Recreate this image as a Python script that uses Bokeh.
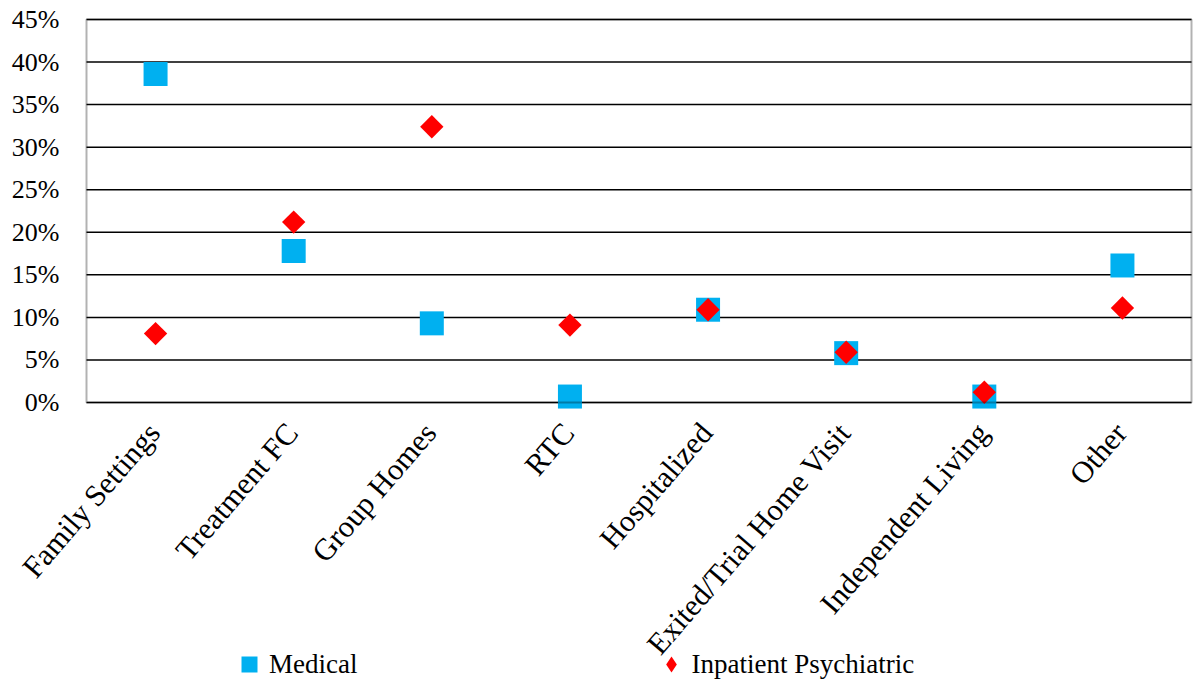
import numpy as np
from bokeh.plotting import figure
from bokeh.models import (ColumnDataSource, Range1d, Legend, LegendItem, BoxAnnotation)
from bokeh.core.properties import value
from bokeh.embed import file_html
from bokeh.resources import INLINE

# Placement outcomes by discharge type (share of youth)
categories = ["Family Settings", "Treatment FC", "Group Homes", "RTC",
              "Hospitalized", "Exited/Trial Home Visit", "Independent Living", "Other"]
medical = [0.386, 0.178, 0.093, 0.007, 0.109, 0.058, 0.007, 0.161]
inpatient_psychiatric = [0.081, 0.212, 0.324, 0.091, 0.109, 0.059, 0.012, 0.111]
y_ticks = [0.0, 0.05, 0.10, 0.15, 0.20, 0.25, 0.30, 0.35, 0.40, 0.45]
y_tick_labels = [f"{round(t * 100)}%" for t in y_ticks]

BLUE = "#00B0F0"
RED = "#FF0000"
FONT = "Liberation Serif"

# page layout (pixels)
W, H = 1193, 679
TOP = 19                 # space above the 45 % line
PLOT_LEFT = 86           # left edge of the bordered plot area
PLOT_RIGHT_GAP = 2
PLOT_H = 383             # height of the 0-45 % band
Y_MAX = 0.45

n = len(categories)
xs = list(range(n))
px_per_cat = (W - PLOT_LEFT - PLOT_RIGHT_GAP) / n
px_per_unit = PLOT_H / Y_MAX
# the drawing frame spans the whole page so the slanted labels, the
# percentage labels and the legend all live in data space
x_range = Range1d(-0.5 - PLOT_LEFT / px_per_cat, n - 0.5 + PLOT_RIGHT_GAP / px_per_cat)
y_range = Range1d(-(H - TOP - PLOT_H) / px_per_unit, Y_MAX + TOP / px_per_unit)

src = ColumnDataSource(dict(x=xs, cat=categories, med=medical, psy=inpatient_psychiatric))

p = figure(
    x_range=x_range, y_range=y_range,
    width=W, height=H,
    min_border_left=0, min_border_right=0, min_border_top=0, min_border_bottom=0,
    x_axis_location=None, y_axis_location=None,
    output_backend="svg", toolbar_location=None,
    background_fill_color="white", border_fill_color="white",
)
p.outline_line_color = None
p.grid.visible = False

# horizontal rules every 5 %
p.segment(x0=-0.5, x1=n - 0.5, y0=y_ticks, y1=y_ticks,
          line_color="black", line_width=1.5)
# border of the plot area
p.add_layout(BoxAnnotation(left=-0.5, right=n - 0.5, bottom=0, top=Y_MAX,
                           fill_alpha=0, line_color="black", line_width=2))

# percentage labels on the left
p.text(x=-0.5, y=y_ticks, text=y_tick_labels, x_offset=-27,
       text_align="right", text_baseline="middle",
       text_font=value(FONT), text_font_size=value("26px"), text_color="black")

# slanted category labels under each column
p.text(x="x", y=0, text="cat", source=src, angle=0.86,
       x_offset=-1.5, y_offset=25,
       text_align="right", text_baseline="middle",
       text_font=value(FONT), text_font_size=value("30.5px"), text_color="black")

# data markers: blue squares, red diamonds (squares turned 45 degrees)
med_r = p.scatter(x="x", y="med", source=src, marker="square", size=24,
                  fill_color=BLUE, line_color=None)
# small diamond marks that sit fully inside the red markers; they supply the legend swatch
psy_key = p.scatter(x="x", y="psy", source=src, marker="diamond", size=16,
                    fill_color=RED, line_color=None)
p.scatter(x="x", y="psy", source=src, marker="square", size=16.5, angle=np.pi / 4,
          fill_color=RED, line_color=None)

legend = Legend(
    items=[LegendItem(label="Medical", renderers=[med_r]),
           LegendItem(label="Inpatient Psychiatric", renderers=[psy_key])],
    orientation="horizontal",
    location=(229, -5),
    glyph_width=40, glyph_height=40,
    label_standoff=0,
    spacing=294,
    padding=0, margin=0,
    border_line_color=None,
    background_fill_alpha=0,
    label_text_font=FONT,
    label_text_font_size="27px",
    label_text_color="black",
)
p.add_layout(legend, "center")

open("out.html", "w").write(file_html(p, INLINE))
